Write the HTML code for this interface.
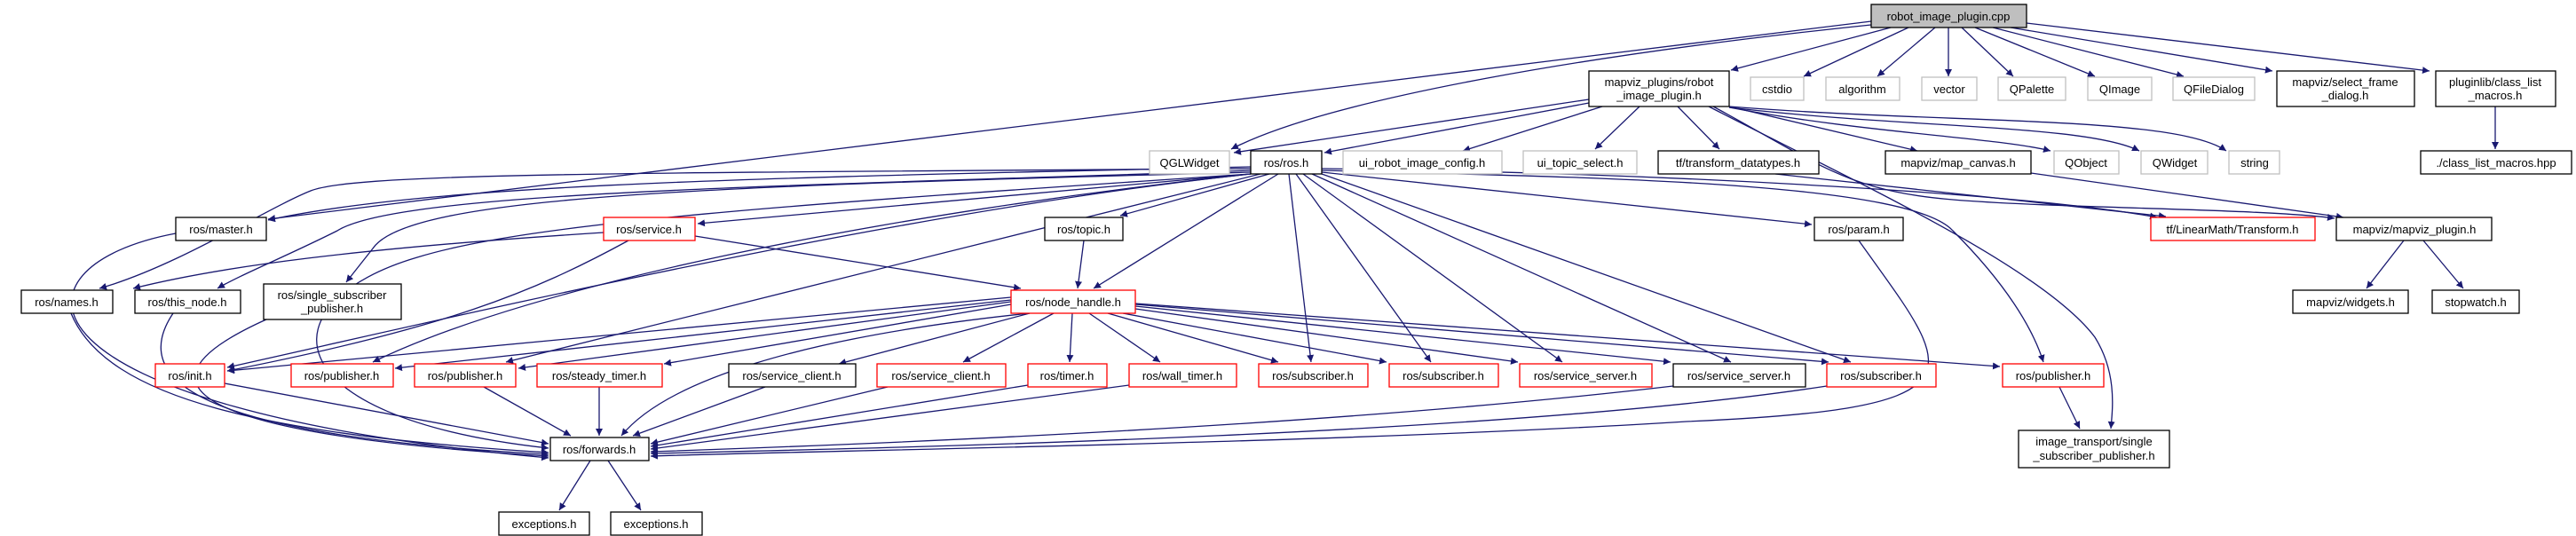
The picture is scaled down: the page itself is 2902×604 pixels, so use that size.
<!DOCTYPE html>
<html><head><meta charset="utf-8"><style>
html,body{margin:0;padding:0;background:#fff;width:2902px;height:604px;overflow:hidden}
svg{display:block}
text{font-family:"Liberation Sans","DejaVu Sans",sans-serif;font-size:13px;fill:#000;text-anchor:middle}
.e{fill:none;stroke:#191970;stroke-width:1.3;marker-end:url(#a)}
.b{fill:#fff;stroke:#000;stroke-width:1.3}
.g{fill:#fff;stroke:#bfbfbf;stroke-width:1.3}
.r{fill:#fff;stroke:#ff0000;stroke-width:1.3}
</style></head><body>
<svg width="2902" height="604" viewBox="0 0 2902 604" xmlns="http://www.w3.org/2000/svg">
<defs><marker id="a" viewBox="0 0 10 10" refX="10" refY="5" markerWidth="8" markerHeight="8" markerUnits="userSpaceOnUse" orient="auto"><path d="M0,0 L10,5 L0,10 z" fill="#191970"/></marker></defs>
<g>
<!-- cpp edges -->
<path class="e" d="M2108,24 L302,247"/>
<path class="e" d="M2108,28 C1800,60 1500,110 1387,168"/>
<path class="e" d="M2130,31 L1950,79"/>
<path class="e" d="M2150,31 L2032,86"/>
<path class="e" d="M2180,31 L2115,86"/>
<path class="e" d="M2195,31 L2195,86"/>
<path class="e" d="M2210,31 L2268,86"/>
<path class="e" d="M2225,31 L2360,86"/>
<path class="e" d="M2245,31 L2460,86"/>
<path class="e" d="M2265,31 L2560,80"/>
<path class="e" d="M2283,26 L2737,80"/>
<path class="e" d="M2811,120 L2811,168"/>
<!-- plugin_h edges -->
<path class="e" d="M1790,112 L1390,172"/>
<path class="e" d="M1790,116 L1492,172"/>
<path class="e" d="M1805,120 L1648,170"/>
<path class="e" d="M1847,120 L1797,168"/>
<path class="e" d="M1890,120 L1937,168"/>
<path class="e" d="M1948,120 L2160,170"/>
<path class="e" d="M1948,121 C2100,150 2250,155 2310,170"/>
<path class="e" d="M1948,121 C2150,145 2350,140 2410,170"/>
<path class="e" d="M1948,120 C2200,140 2450,130 2508,170"/>
<path class="e" d="M1930,120 C2050,185 2080,215 2200,225 S2550,235 2630,246"/>
<path class="e" d="M1925,120 C2080,200 2300,300 2360,380 C2385,420 2380,460 2378,483"/>
<path class="e" d="M2000,196 L2440,244"/>
<path class="e" d="M2288,195 L2640,245"/>
<path class="e" d="M2708,271 L2666,325"/>
<path class="e" d="M2730,271 L2775,325"/>
<!-- ros.h edges -->
<path class="e" d="M1489,192 C1800,200 2150,205 2200,260 C2260,320 2290,370 2302,408"/>
<path class="e" d="M1489,190 C1900,195 2300,220 2430,245"/>
<path class="e" d="M1409,188 C900,200 500,205 302,248"/>
<path class="e" d="M1409,190 C700,195 400,195 350,215 C300,235 200,300 112,325"/>
<path class="e" d="M1409,192 C900,210 450,215 380,260 C320,290 270,310 245,325"/>
<path class="e" d="M1409,194 C800,210 460,220 420,280 L390,318"/>
<path class="e" d="M1409,196 L786,252"/>
<path class="e" d="M1430,196 L1262,243"/>
<path class="e" d="M1440,196 L1232,325"/>
<path class="e" d="M1489,194 L2041,253"/>
<path class="e" d="M1409,196 C1000,240 500,360 256,414"/>
<path class="e" d="M1409,196 C1000,240 600,320 420,408"/>
<path class="e" d="M1420,196 L570,408"/>
<path class="e" d="M1409,196 C900,230 600,250 470,290 C300,340 300,470 618,505"/>
<path class="e" d="M1452,196 L1477,408"/>
<path class="e" d="M1460,196 L1612,408"/>
<path class="e" d="M1468,196 L1760,408"/>
<path class="e" d="M1478,196 L1950,408"/>
<path class="e" d="M1489,196 L2085,408"/>
<path class="e" d="M1221,271 L1214,325"/>
<!-- service.h -->
<path class="e" d="M783,266 L1150,325"/>
<path class="e" d="M680,262 C400,280 250,300 150,325"/>
<path class="e" d="M708,271 C600,330 500,370 256,418"/>
<!-- node_handle edges -->
<path class="e" d="M1139,335 L256,418"/>
<path class="e" d="M1139,338 L445,415"/>
<path class="e" d="M1139,340 L584,415"/>
<path class="e" d="M1139,343 L748,410"/>
<path class="e" d="M1160,353 L945,410"/>
<path class="e" d="M1187,353 L1085,408"/>
<path class="e" d="M1208,353 L1205,408"/>
<path class="e" d="M1227,353 L1307,408"/>
<path class="e" d="M1248,353 L1440,408"/>
<path class="e" d="M1265,353 L1562,408"/>
<path class="e" d="M1279,348 L1710,408"/>
<path class="e" d="M1279,345 L1882,408"/>
<path class="e" d="M1279,343 L2060,408"/>
<path class="e" d="M1279,342 L2253,413"/>
<path class="e" d="M1160,353 C900,380 750,430 700,491"/>
<!-- to forwards -->
<path class="e" d="M253,432 L618,500"/>
<path class="e" d="M545,436 L643,491"/>
<path class="e" d="M675,436 L675,491"/>
<path class="e" d="M862,436 L713,491"/>
<path class="e" d="M1000,436 L733,500"/>
<path class="e" d="M1158,434 L733,503"/>
<path class="e" d="M1272,434 L733,506"/>
<path class="e" d="M1885,435 C1500,480 1000,500 733,509"/>
<path class="e" d="M2058,435 C1700,490 1000,505 733,511"/>
<path class="e" d="M80,353 C120,450 300,490 618,510"/>
<path class="e" d="M195,353 C130,450 300,495 618,512"/>
<path class="e" d="M300,360 C100,450 300,495 618,514"/>
<path class="e" d="M198,263 C0,300 0,460 618,516"/>
<path class="e" d="M2094,271 C2200,420 2250,460 1900,475 C1500,500 900,508 733,514"/>
<path class="e" d="M2320,436 L2343,483"/>
<path class="e" d="M665,519 L630,575"/>
<path class="e" d="M685,519 L722,575"/>
</g>
<!-- nodes -->
<rect x="2108" y="5" width="175" height="26" fill="#bfbfbf" stroke="#000" stroke-width="1.3"/><text x="2195" y="23">robot_image_plugin.cpp</text>
<rect class="b" x="1790" y="80" width="158" height="40"/><text x="1869" y="97">mapviz_plugins/robot</text><text x="1869" y="112">_image_plugin.h</text>
<rect class="g" x="1972" y="87" width="60" height="26"/><text x="2002" y="105">cstdio</text>
<rect class="g" x="2057" y="87" width="83" height="26"/><text x="2098" y="105">algorithm</text>
<rect class="g" x="2165" y="87" width="62" height="26"/><text x="2196" y="105">vector</text>
<rect class="g" x="2251" y="87" width="76" height="26"/><text x="2289" y="105">QPalette</text>
<rect class="g" x="2352" y="87" width="72" height="26"/><text x="2388" y="105">QImage</text>
<rect class="g" x="2448" y="87" width="92" height="26"/><text x="2494" y="105">QFileDialog</text>
<rect class="b" x="2565" y="80" width="155" height="40"/><text x="2642" y="97">mapviz/select_frame</text><text x="2642" y="112">_dialog.h</text>
<rect class="b" x="2744" y="80" width="135" height="40"/><text x="2811" y="97">pluginlib/class_list</text><text x="2811" y="112">_macros.h</text>
<rect class="g" x="1295" y="170" width="90" height="26"/><text x="1340" y="188">QGLWidget</text>
<rect class="b" x="1409" y="170" width="80" height="26"/><text x="1449" y="188">ros/ros.h</text>
<rect class="g" x="1513" y="170" width="179" height="26"/><text x="1602" y="188">ui_robot_image_config.h</text>
<rect class="g" x="1716" y="170" width="128" height="26"/><text x="1780" y="188">ui_topic_select.h</text>
<rect class="b" x="1868" y="170" width="181" height="26"/><text x="1958" y="188">tf/transform_datatypes.h</text>
<rect class="b" x="2124" y="170" width="164" height="26"/><text x="2206" y="188">mapviz/map_canvas.h</text>
<rect class="g" x="2314" y="170" width="73" height="26"/><text x="2350" y="188">QObject</text>
<rect class="g" x="2412" y="170" width="75" height="26"/><text x="2450" y="188">QWidget</text>
<rect class="g" x="2511" y="170" width="57" height="26"/><text x="2540" y="188">string</text>
<rect class="b" x="2727" y="170" width="170" height="26"/><text x="2812" y="188">./class_list_macros.hpp</text>
<rect class="b" x="198" y="245" width="102" height="26"/><text x="249" y="263">ros/master.h</text>
<rect class="r" x="680" y="245" width="103" height="26"/><text x="731" y="263">ros/service.h</text>
<rect class="b" x="1177" y="245" width="88" height="26"/><text x="1221" y="263">ros/topic.h</text>
<rect class="b" x="2044" y="245" width="100" height="26"/><text x="2094" y="263">ros/param.h</text>
<rect class="r" x="2423" y="245" width="185" height="26"/><text x="2515" y="263">tf/LinearMath/Transform.h</text>
<rect class="b" x="2632" y="245" width="175" height="26"/><text x="2720" y="263">mapviz/mapviz_plugin.h</text>
<rect class="b" x="24" y="327" width="103" height="26"/><text x="75" y="345">ros/names.h</text>
<rect class="b" x="152" y="327" width="119" height="26"/><text x="211" y="345">ros/this_node.h</text>
<rect class="b" x="297" y="320" width="155" height="40"/><text x="374" y="337">ros/single_subscriber</text><text x="374" y="352">_publisher.h</text>
<rect class="r" x="1139" y="327" width="140" height="26"/><text x="1209" y="345">ros/node_handle.h</text>
<rect class="b" x="2583" y="327" width="130" height="26"/><text x="2648" y="345">mapviz/widgets.h</text>
<rect class="b" x="2740" y="327" width="98" height="26"/><text x="2789" y="345">stopwatch.h</text>
<rect class="r" x="175" y="410" width="78" height="26"/><text x="214" y="428">ros/init.h</text>
<rect class="r" x="328" y="410" width="115" height="26"/><text x="385" y="428">ros/publisher.h</text>
<rect class="r" x="467" y="410" width="114" height="26"/><text x="524" y="428">ros/publisher.h</text>
<rect class="r" x="605" y="410" width="141" height="26"/><text x="675" y="428">ros/steady_timer.h</text>
<rect class="b" x="821" y="410" width="143" height="26"/><text x="892" y="428">ros/service_client.h</text>
<rect class="r" x="988" y="410" width="145" height="26"/><text x="1060" y="428">ros/service_client.h</text>
<rect class="r" x="1158" y="410" width="89" height="26"/><text x="1202" y="428">ros/timer.h</text>
<rect class="r" x="1272" y="410" width="121" height="26"/><text x="1332" y="428">ros/wall_timer.h</text>
<rect class="r" x="1418" y="410" width="123" height="26"/><text x="1479" y="428">ros/subscriber.h</text>
<rect class="r" x="1565" y="410" width="123" height="26"/><text x="1626" y="428">ros/subscriber.h</text>
<rect class="r" x="1712" y="410" width="149" height="26"/><text x="1786" y="428">ros/service_server.h</text>
<rect class="b" x="1885" y="410" width="149" height="26"/><text x="1959" y="428">ros/service_server.h</text>
<rect class="r" x="2058" y="410" width="123" height="26"/><text x="2119" y="428">ros/subscriber.h</text>
<rect class="r" x="2256" y="410" width="114" height="26"/><text x="2313" y="428">ros/publisher.h</text>
<rect class="b" x="2274" y="485" width="170" height="42"/><text x="2359" y="502">image_transport/single</text><text x="2359" y="518">_subscriber_publisher.h</text>
<rect class="b" x="620" y="493" width="111" height="26"/><text x="675" y="511">ros/forwards.h</text>
<rect class="b" x="562" y="577" width="102" height="26"/><text x="613" y="595">exceptions.h</text>
<rect class="b" x="688" y="577" width="103" height="26"/><text x="739" y="595">exceptions.h</text>
</svg>
</body></html>
